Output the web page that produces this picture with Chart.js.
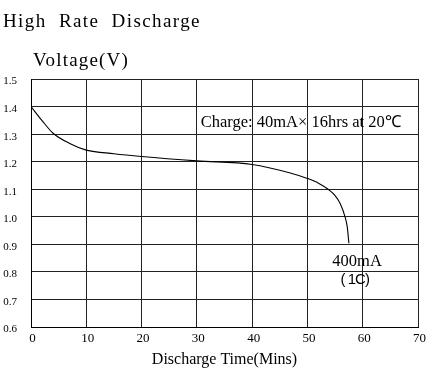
<!DOCTYPE html>
<html>
<head>
<meta charset="utf-8">
<script src="https://cdn.jsdelivr.net/npm/chart.js@4"></script>
<style>
    body { margin: 0; background: #fff; }
    #wrap { width: 434px; height: 381px; position: relative; }
</style>
</head>
<body>
<div id="wrap"><canvas id="dischargeChart"></canvas></div>
<script>
const timeMins = [0, 2, 4, 7, 10, 15, 20, 30, 40, 46.9, 50, 52, 53.8, 55, 55.9, 56.8, 57.2, 57.5];
const voltage = [1.40, 1.349, 1.303, 1.266, 1.242, 1.229, 1.219, 1.203, 1.19, 1.159, 1.139, 1.122, 1.099, 1.077, 1.049, 1.0, 0.964, 0.904];
const xTicks = [0, 10, 20, 30, 40, 50, 60, 70];
const yTicks = [0.6, 0.7, 0.8, 0.9, 1.0, 1.1, 1.2, 1.3, 1.4, 1.5];

const serif = '"Liberation Serif", "Times New Roman", serif';

// loose texts: title, y label and the notes inside the plot
const textPlugin = {
    id: 'notes',
    afterDraw(chart) {
        const c = chart.ctx;
        const x = chart.scales.x;
        const y = chart.scales.y;
        c.save();
        c.fillStyle = '#000';
        c.textBaseline = 'alphabetic';
        c.textAlign = 'left';
        c.font = '19px ' + serif;
        c.letterSpacing = '1.4px';
        c.fillText('High  Rate  Discharge', 3, 27);
        c.letterSpacing = '1.2px';
        c.fillText('Voltage(V)', 33, 66);
        c.letterSpacing = '0px';
        c.font = '16.5px ' + serif;
        c.fillText('Charge: 40mA\u00d7 16hrs at 20\u2103', x.getPixelForValue(30.7), y.getPixelForValue(1.3) - 7);
        c.fillText('400mA', x.getPixelForValue(54.5), y.getPixelForValue(0.8) - 6);
        c.font = '15px "Liberation Sans", Arial, sans-serif';
        c.letterSpacing = '-1px';
        c.fillText('( 1C)', x.getPixelForValue(56), y.getPixelForValue(0.8) + 12);
        c.restore();
    }
};

const ctx = document.getElementById('dischargeChart').getContext('2d');
const chart = new Chart(ctx, {
    type: 'line',
    data: {
        datasets: [{
            label: '400mA (1C)',
            data: timeMins.map((t, i) => ({ x: t, y: voltage[i] })),
            borderColor: '#000',
            borderWidth: 1.1,
            pointRadius: 0,
            fill: false,
            cubicInterpolationMode: 'monotone'
        }]
    },
    options: {
        responsive: true,
        maintainAspectRatio: false,
        animation: false,
        layout: {
            padding: { top: 79, right: 16, left: 0, bottom: 0 }
        },
        plugins: {
            legend: { display: false },
            tooltip: { enabled: false }
        },
        scales: {
            x: {
                type: 'linear',
                min: 0,
                max: 70,
                afterBuildTicks: scale => { scale.ticks = xTicks.map(v => ({ value: v })); },
                afterFit: scale => { scale.height = 54; },
                grid: { color: '#222', lineWidth: 1, drawTicks: false },
                border: { color: '#000', width: 1 },
                ticks: {
                    color: '#000',
                    padding: 4,
                    labelOffset: 1.5,
                    font: { family: serif, size: 13 }
                },
                title: {
                    display: true,
                    text: 'Discharge Time(Mins)',
                    color: '#000',
                    font: { family: serif, size: 16 },
                    padding: { top: 0, bottom: 12 }
                }
            },
            y: {
                min: 0.6,
                max: 1.5,
                afterBuildTicks: scale => { scale.ticks = yTicks.map(v => ({ value: v })); },
                afterFit: scale => { scale.width = 31; },
                grid: { color: '#222', lineWidth: 1, drawTicks: false },
                border: { color: '#000', width: 1 },
                ticks: {
                    color: '#000',
                    padding: 14,
                    labelOffset: 2.5,
                    font: { family: serif, size: 11 },
                    callback: v => v.toFixed(1)
                }
            }
        }
    },
    plugins: [textPlugin]
});
</script>
</body>
</html>
